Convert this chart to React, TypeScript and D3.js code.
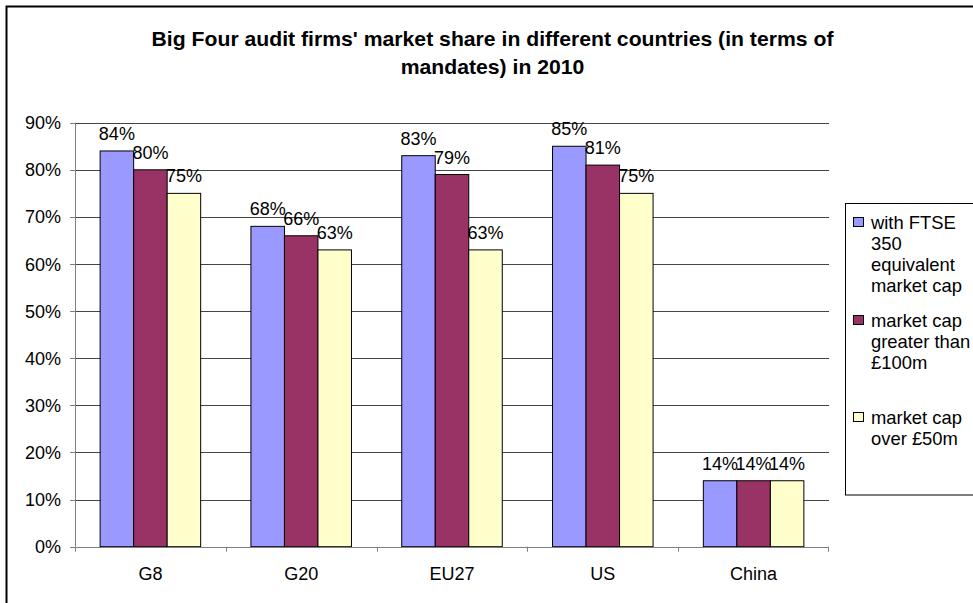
import React from 'react';
import * as d3 from 'd3';

const categories = ['G8', 'G20', 'EU27', 'US', 'China'];
const seriesNames = [
  ['with FTSE', '350', 'equivalent', 'market cap'],
  ['market cap', 'greater than', '£100m'],
  ['market cap', 'over £50m'],
];
const ftse350 = [0.84, 0.68, 0.83, 0.85, 0.14];
const over100m = [0.8, 0.66, 0.79, 0.81, 0.14];
const over50m = [0.75, 0.63, 0.63, 0.75, 0.14];
const colors = ['#9999FF', '#993366', '#FFFFCC'];
const yTicks = [0, 0.1, 0.2, 0.3, 0.4, 0.5, 0.6, 0.7, 0.8, 0.9];

const W = 973;
const H = 603;
const font = 'Liberation Sans, Arial, sans-serif';

function App() {
  const series = [ftse350, over100m, over50m];
  const plot = { left: 75, right: 829, top: 122.7, bottom: 546.7 };

  const x0 = d3.scaleBand().domain(categories).range([plot.left, plot.right]).padding(0);
  const x1 = d3
    .scaleBand()
    .domain(['0', '1', '2'])
    .range([0, x0.bandwidth()])
    .paddingInner(0)
    .paddingOuter(0.75);
  const y = d3.scaleLinear().domain([0, 0.9]).range([plot.bottom, plot.top]);
  const pct = d3.format('.0%');

  // legend entry centres
  const legendY = [222, 320, 417];

  return (
    <svg width={W} height={H} style={{ position: 'absolute', left: 0, top: 0, background: '#fff' }}>
      <rect x={6.5} y={6.5} width={W + 20} height={H + 20} fill="#fff" stroke="#000" strokeWidth={2} />

      <g transform="translate(492.5,46) scale(1.06,1)">
        <text textAnchor="middle" fontFamily={font} fontWeight="bold" fontSize={20}>
          Big Four audit firms' market share in different countries (in terms of
        </text>
      </g>
      <g transform="translate(492.5,74) scale(1.06,1)">
        <text textAnchor="middle" fontFamily={font} fontWeight="bold" fontSize={20}>
          mandates) in 2010
        </text>
      </g>

      {/* gridlines */}
      {yTicks.slice(1).map(t => (
        <line key={t} x1={plot.left} x2={plot.right} y1={Math.round(y(t)) + 0.5} y2={Math.round(y(t)) + 0.5} stroke="#444" strokeWidth={1} />
      ))}

      {/* bars */}
      {categories.map((c, i) => (
        <g key={c}>
          {series.map((s, j) => {
            const bx = (x0(c) as number) + (x1(String(j)) as number);
            const by = y(s[i]);
            return (
              <rect
                key={j}
                x={bx}
                y={by}
                width={x1.bandwidth()}
                height={plot.bottom - by}
                fill={colors[j]}
                stroke="#000"
                strokeWidth={1}
              />
            );
          })}
          {series.map((s, j) => {
            const bx = (x0(c) as number) + (x1(String(j)) as number) + x1.bandwidth() / 2;
            return (
              <text key={'l' + j} x={bx} y={y(s[i]) - 11} textAnchor="middle" fontFamily={font} fontSize={18}>
                {pct(s[i])}
              </text>
            );
          })}
        </g>
      ))}

      {/* axes */}
      <line x1={plot.left + 0.5} x2={plot.left + 0.5} y1={plot.top} y2={plot.bottom} stroke="#808080" />
      <line x1={plot.left} x2={plot.right} y1={Math.round(plot.bottom) + 0.5} y2={Math.round(plot.bottom) + 0.5} stroke="#808080" />
      {yTicks.map(t => (
        <g key={t}>
          <line x1={plot.left - 5} x2={plot.left} y1={Math.round(y(t)) + 0.5} y2={Math.round(y(t)) + 0.5} stroke="#808080" />
          <text x={61} y={y(t) + 6.5} textAnchor="end" fontFamily={font} fontSize={18}>
            {pct(t)}
          </text>
        </g>
      ))}
      {categories.map(c => (
        <line
          key={'t' + c}
          x1={Math.round(x0(c) as number) + 0.5}
          x2={Math.round(x0(c) as number) + 0.5}
          y1={plot.bottom}
          y2={plot.bottom + 5}
          stroke="#808080"
        />
      ))}
      <line x1={plot.right - 0.5} x2={plot.right - 0.5} y1={plot.bottom} y2={plot.bottom + 5} stroke="#808080" />
      {categories.map(c => (
        <text key={'c' + c} x={(x0(c) as number) + x0.bandwidth() / 2} y={580} textAnchor="middle" fontFamily={font} fontSize={18}>
          {c}
        </text>
      ))}

      {/* legend */}
      <rect x={845.5} y={203.5} width={200} height={291.5} fill="#fff" stroke="#000" strokeWidth={1} />
      {seriesNames.map((lines, j) => (
        <g key={'lg' + j}>
          <rect x={853.5} y={legendY[j] - 4.5} width={10} height={9} fill={colors[j]} stroke="#000" />
          {lines.map((ln, k) => (
            <text key={k} x={871} y={legendY[j] + 6.5 + k * 21} fontFamily={font} fontSize={18.4}>
              {ln}
            </text>
          ))}
        </g>
      ))}
    </svg>
  );
}

export default App;
